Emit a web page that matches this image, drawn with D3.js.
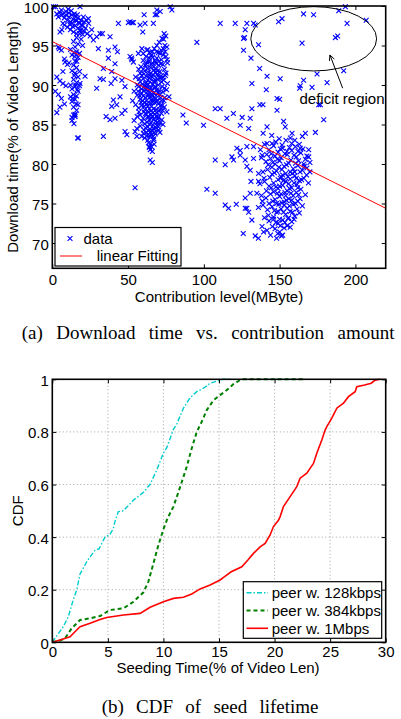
<!DOCTYPE html>
<html><head><meta charset="utf-8">
<script src="https://cdn.jsdelivr.net/npm/d3@7"></script>
<style>
body{margin:0;background:#fff;}
svg text{font-family:"Liberation Sans",Arial,sans-serif;}
.cap{font-family:"Liberation Serif","Times New Roman",serif;}
</style></head><body>
<svg id="fig" width="401" height="719"></svg>
<script>
// ---------- DATA: chart (a) ----------
const topXTicks = [0, 50, 100, 150, 200];
const topYTicks = [70, 75, 80, 85, 90, 95, 100];
// [contribution (MByte), download time (% of video length)]
const clusterLowContrib = [
[0.8,99.9],[2,99.9],[18.3,99.9],[5,99.2],[6,98.8],[7,99.0],[8,98.5],[9,98.9],[10,98.2],[11,98.6],[12,98.0],[13,97.8],[14,98.3],[15,97.5],[16,98.1],[17,97.2],[18,97.8],[19,97.0],[20,97.5],[21,96.8],[8,97.6],[10,97.3],[12,97.0],[14,96.7],[16,96.5],[18,96.9],[20,96.4],[22,97.2],[24,97.8],[26,97.0],[6,99.5],[9,99.3],[11,99.1],[13,98.9],[15,98.7],[17,98.5],[19,98.2],[21,98.0],[4,98.6],[3,99.0],[7,97.8],[23,96.5],[25,96.2],[5.1,96.7],[6.3,97.0],[12.5,99.4],[14.5,99.0],[16.5,98.9],[10.5,99.6],[20.5,98.6],[22.5,98.2],[19.5,97.6],[17.5,97.9],[15.5,98.2],[13.5,97.4],[11.5,97.7],
[14,95.5],[15,94.8],[16,94.2],[13,93.8],[17,93.5],[15,93.0],[14,92.5],[16,92.2],[13,91.8],[15,91.5],[17,91.0],[14,90.7],[16,90.3],[12,90.0],[15,89.8],[13,89.5],[17,89.2],[14,88.8],[16,88.6],[15,88.2],[13,87.9],[17,87.5],[14,87.2],[16,86.8],[15,86.3],[13,85.9],[17,95.2],[18,94.0],[12,94.5],[16,96.0],[11,92.8],[18,91.7],[12,88.5],[18,89.9],[15,86.0],[13,85.5],[14,86.2],[18,96.5],[19,95.8],[20,95.0],[16.7,83.3],[15,86.2],[14.3,85.1],[17.2,83.3],[14.5,91.2],[15.5,90.0],[16.5,89.4],[13.5,88.3],[15.8,87.6],[14.8,93.6],[16.2,93.0],[14.2,94.1],
[4,94.8],[6,94.4],[3,91.0],[5,90.5],[7,90.2],[9,89.9],[2,89.2],[4,88.8],[6,88.3],[8,87.6],[5,87.2],[3,86.5],[10,92.6],[8,93.3],[7,91.7],[4.6,94.6],[8.4,92.9],[18.3,90.2],[21.6,91.1]
];
const clusterMidSparse = [
[23.8,98.4],[27.1,95.7],[29.3,96.1],[31.5,96.5],[33,96.5],[38.1,96.1],[43.6,97.8],[50.2,97.9],[52.6,97.9],[60.6,98.9],[30.4,94.6],[37,94.4],[41.4,94.8],[43,94.2],[51.3,93.6],[52.3,93.4],[37,93.4],[41.4,92.7],[33.7,92.1],[39.2,91.7],[31.5,90.8],[33.7,90.7],[29.3,89.6],[38.8,90.2],[41.4,90.8],[45.9,90.6],[48,89.8],[40.3,88.1],[42.5,87.5],[44.7,88.5],[39.2,87.3],[35.5,86],[41.4,85.8],[38.1,85.6],[33.7,83.5],[48,84.1],[49.2,83.7],[45.9,86.4],[48,86.8],[54.6,77]
];
const clusterMidDense = [
[52.5,93.2],[53.5,92.9],[56.8,94],[62.4,94.4],[65.7,93.8],[69,93.4],[71.2,94],[73.3,94.6],[74.5,94.2],[75.6,94.8],[73.8,96.5],[74.9,96.2],[69,98.9],[69,99.5],[71.2,99.3],[77.8,99.9],[78.9,99.5],[66.7,97.8],[67.9,98.9],[57.9,97.6],[61.2,97.8],[59.7,96.7],[59.1,94.6],[51.3,98],[53.5,97.9],[73.5,95.8],[60.1,83.9],[64.6,83.5],[64.1,82.2],[66.7,83],[54.6,84.1],[55.8,83.5],[55.8,84.5],[66.7,84.5],[70,84.7],[69,86],[72.3,85.6],[75.6,86.6],[86.2,86.2],[88.4,85.2],[95.4,95.4],[64.6,81.8],[64.6,80.5],[66,80.2],
[60,93.1],[62,92.6],[64,93.4],[66,92.8],[68,93.0],[70,92.5],[72,93.2],[74,92.0],[61,91.8],[63,92.1],[65,91.5],[67,91.9],[69,91.3],[71,91.7],[73,91.0],[59,91.2],[58,90.4],[60,90.8],[62,90.3],[64,90.9],[66,90.1],[68,90.6],[70,90.0],[72,90.4],[74,89.6],[57,89.8],[59,89.5],[61,89.9],[63,89.2],[65,89.7],[67,89.0],[69,89.4],[71,88.8],[73,89.1],[56,88.7],[58,88.2],[60,88.6],[62,88.0],[64,88.4],[66,87.8],[68,88.3],[70,87.6],[72,88.0],[55,87.5],[57,87.1],[59,87.4],[61,86.9],[63,87.3],[65,86.7],[67,87.0],[69,86.5],[71,86.9],[58,86.2],[60,85.8],[62,86.3],[64,85.6],[66,86.0],[68,85.4],[70,85.9],[61,85.1],[63,84.7],[65,85.2],[67,84.5],[69,84.9],[62,84.0],[64,83.6],[66,84.2],[68,83.8],[63,83.0],[65,82.6],[67,83.2],[64,82.1],[66,81.6],[60,94.0],[63,94.5],[66,94.2],[69,95.0],[72,94.4],[75,93.6],[76,92.8],[75,91.5],[76,90.2],[57,92.0],[55,91.0],[54,89.2],[53,88.0],[56,86.0],[54,85.5],[58,84.8],[59,83.5],[71,84.0],[73,85.0],[74,87.2],[77,88.5],[61,87.8],[63,90.6],[65,88.1],[67,92.3],[69,87.9],[71,90.9],[62,89.4],[64,91.2],[66,89.3],[68,91.6],[70,89.0],[60,92.0],[65,93.7],[70,94.1],[73,92.6],[66,88.6],[63,86.0],[67,85.7],[61,83.3],[65,84.1],[69,86.1],[72,86.4],[64,87.0],[68,89.8],[62,91.1],[66,91.0],[70,91.2],[58,91.5],[56,90.0],
[58.5,92.3],[60.5,91.4],[61.5,90.2],[62.5,92.9],[63.5,91.6],[64.5,90.4],[65.5,92.6],[66.5,91.3],[67.5,90.3],[68.5,92.0],[69.5,90.7],[70.5,93.0],[71.5,91.1],[72.5,89.8],[73.5,90.6],[59.5,90.1],[60.5,89.2],[61.5,88.4],[62.5,89.7],[63.5,88.7],[64.5,89.5],[65.5,88.9],[66.5,88.2],[67.5,89.6],[68.5,88.7],[69.5,88.1],[70.5,89.3],[71.5,88.4],[72.5,87.4],[59.5,88.0],[60.5,87.3],[61.5,86.4],[62.5,87.6],[63.5,86.6],[64.5,87.7],[65.5,87.3],[66.5,86.5],[67.5,87.8],[68.5,86.9],[69.5,85.7],[70.5,86.7],[71.5,87.4],[60.5,86.6],[61.5,84.6],[62.5,85.3],[63.5,85.9],[64.5,85.0],[65.5,85.8],[66.5,84.9],[67.5,86.3],[68.5,84.6],[69.5,85.3],[62.5,83.6],[63.5,84.2],[64.5,84.4],[65.5,83.7],[66.5,83.5],[67.5,84.0],[63.5,82.7],[65.5,82.2],[67.2,82.5],[61.2,92.5],[63.8,93.0],[66.2,93.5],[68.8,94.2],[71.8,92.7],[73.2,93.8],[74.6,91.2],[75.4,89.4],[74.2,88.4],[72.8,86.8],[57.4,90.8],[56.6,89.2],[57.8,88.6],[58.6,87.8],[57.2,86.6],[59.2,85.4],[60.4,84.3],[58.8,89.0],[70.2,84.3],[71.3,85.2],[73.6,88.0],[61.8,93.6],[64.2,94.1],[67.3,94.6],[70.6,95.4],[72.4,95.9],[74.3,95.0],[75.8,93.2],[64.9,92.2],[68.2,92.8],[62.9,90.0],[66.9,90.5],[60.9,89.6],[69.7,91.8],[65.2,86.3],[63.1,88.9]
];
const clusterHighSparse = [
[110.8,97.8],[120.7,97.8],[128.4,97.8],[132.8,97.8],[133.9,97.6],[127.3,97],[126.2,95.9],[126.8,96],[126.2,94.4],[131.1,93.4],[136.1,95.1],[136.8,92.1],[141.7,91.1],[131.7,90.2],[141.2,89.4],[150.4,90.8],[150,88.2],[163.6,89.9],[163.2,89.6],[165.8,90.6],[171.4,89.7],[174.7,91.4],[181.3,90.3],[192.3,91.8],[176.9,87.5],[149.3,98],[151.6,98.4],[165.8,99],[172.4,98.9],[164.8,95.3],[186.8,96],[188.3,96.2],[194.5,97.8],[189,99.4],[193.4,99.9],[207.1,98.2],
[107.5,87],[110.8,87],[115.2,85.8],[119.5,86.4],[125.3,85.9],[130.6,85.8],[131.7,87],[137,87.5],[139,87.5],[148.3,86.8],[99.8,84.9],[124,84.9],[129.6,84.5],[141.7,84.7],[152.6,85.4],[153.7,84.7],[158.2,83.9],[167,83.9],[173.6,84],[179.1,85.6],[175.8,87.5],[148.3,88.3],
[121.8,82],[124,81.7],[128.4,82.2],[132.8,82.2],[137.3,81.8],[141.7,82.6],[145,82.6],[151.6,82.4],[154.9,81.6],[160.4,82.2],[163.6,82],[169.2,81.8]
];
const clusterHighDense = [
[140,82.5],[143,81.8],[146,82.3],[149,81.5],[152,82.0],[155,81.2],[158,81.7],[161,80.9],[164,81.4],[167,80.6],[170,80.2],[138,80.8],[141,80.3],[144,80.7],[147,80.0],[150,80.4],[153,79.7],[156,80.1],[159,79.4],[162,79.8],[165,79.2],[168,79.5],[139,79.0],[142,79.3],[145,78.7],[148,79.1],[151,78.4],[154,78.8],[157,78.1],[160,78.5],[163,77.9],[166,78.2],[169,77.6],[137,77.5],[140,77.8],[143,77.2],[146,77.6],[149,76.9],[152,77.3],[155,76.6],[158,77.0],[161,76.4],[164,76.8],[167,76.1],[135,76.3],[138,76.0],[141,75.7],[144,76.2],[147,75.5],[150,75.9],[153,75.2],[156,75.6],[159,74.9],[162,75.3],[165,74.7],[136,74.5],[139,74.8],[142,74.2],[145,74.6],[148,73.9],[151,74.3],[154,73.6],[157,74.0],[160,73.4],[163,73.8],[140,73.2],[143,72.8],[146,73.3],[149,72.5],[152,72.9],[155,72.2],[158,72.7],[147,71.8],[150,71.4],[153,71.9],[144,71.0],[148,70.6],[146,73.0],[151,76.2],[154,77.8],[157,79.0],[149,78.0],[153,74.8],[156,73.2],[159,76.0],[161,78.2],[148,75.0],[150,77.2],[152,78.6],[155,74.4],[158,75.4],[160,79.0],[162,77.0],[145,79.6],[147,81.0],[151,80.8],[154,76.0],[156,77.5],[149,74.0],[146,76.5],[157,72.0],[152,71.0],[150,73.0],[143,75.0],[166,80.0],[168,81.0],[170,79.0],[163,82.5],[160,83.0],[165,83.5],[158,82.6],
[126,71.2],[133.9,70.9],[136,70.6],[138.4,72.1],[139.4,71.4],[141.7,71.6],[131.7,72.9],[129.6,73.9],[128.4,74.4],[127.3,75.7],[130.6,76.3],[131.1,77.8],[136.1,77.8],[130.6,79.2],[136.1,78.8],[118.5,80.9],[124,81.1],[119.6,80.5],[127.3,80.5],[128.4,79.7],[132.8,80.7],[138.4,81.1],[107.5,80.5],[114.1,79.9],[102,76.8],[107.5,76.3],[114.1,74.8],[116.3,74.4],[121.4,74.9],[127.3,74.4],
[141.5,81.2],[144.5,81.3],[147.5,82.8],[150.5,81.9],[153.5,81.3],[156.5,82.1],[159.5,81.1],[162.5,80.4],[142.5,79.9],[145.5,80.2],[148.5,80.6],[151.5,79.3],[154.5,79.9],[157.5,80.5],[160.5,80.1],[163.5,79.0],[143.5,78.3],[146.5,78.9],[149.5,79.6],[152.5,77.9],[155.5,78.4],[158.5,78.8],[161.5,77.4],[164.5,78.0],[144.5,77.0],[147.5,77.1],[150.5,78.2],[153.5,76.4],[156.5,76.9],[159.5,77.6],[162.5,76.1],[145.5,75.3],[148.5,76.3],[151.5,75.1],[154.5,75.4],[157.5,76.3],[160.5,75.0],[163.5,75.6],[146.5,74.1],[149.5,74.9],[152.5,73.9],[155.5,73.1],[158.5,73.9],[161.5,74.3],[147.5,72.6],[150.5,72.2],[153.5,72.6],[156.5,74.7],[159.5,73.0],[145.2,72.1],[148.8,71.2],[151.2,70.9],[142.6,73.5],[141.3,76.6],[139.7,78.2],[138.6,75.3],[166.3,79.7],[167.8,78.6],[169.2,80.9],[165.4,81.9],[162.1,81.6],[157.1,83.3],[154.2,83.0],[149.7,83.2],[144.8,83.6],[139.1,83.9]
];
const fitLine = [[0, 95.5], [220, 74.4]];
const deficitEllipse = {cx: 172.5, cy: 95.85, rx: 41.5, ry: 4.07};
const deficitArrow = [[191.6, 89.6], [183.2, 93.8]];

// ---------- DATA: chart (b) ----------
const botXTicks = [0, 5, 10, 15, 20, 25, 30];
const botYTicks = [0, 0.2, 0.4, 0.6, 0.8, 1];
const botYLabels = ["0", "0.2", "0.4", "0.6", "0.8", "1"];
const cdf128 = [[0,0],[0.5,0.03],[1,0.06],[1.44,0.097],[1.8,0.15],[2.2,0.2],[2.5,0.26],[3.15,0.31],[3.84,0.35],[4.2,0.355],[4.74,0.40],[5.19,0.41],[5.49,0.433],[5.64,0.46],[5.94,0.497],[6.4,0.50],[7.29,0.54],[8.19,0.57],[8.79,0.60],[9.4,0.655],[10,0.72],[10.3,0.74],[10.9,0.81],[11.2,0.83],[11.8,0.89],[12.4,0.93],[13,0.953],[13.6,0.966],[14.2,0.985],[14.9,0.994],[15.4,1],[16,1]];
const cdf384 = [[0,0],[0.6,0.005],[1.14,0.015],[1.74,0.053],[2.5,0.085],[3.4,0.091],[4.3,0.10],[5.2,0.123],[6.4,0.129],[7.3,0.154],[8.2,0.19],[8.64,0.23],[9.1,0.30],[9.55,0.37],[10,0.43],[10.35,0.47],[10.9,0.516],[11.5,0.59],[12.1,0.668],[12.55,0.738],[13,0.80],[13.45,0.839],[13.9,0.883],[14.5,0.92],[15.1,0.94],[15.7,0.959],[16.3,0.982],[16.9,0.997],[17.2,1],[22.6,1]];
const cdf1M = [[0,0],[0.69,0.009],[1.6,0.021],[2.04,0.04],[2.5,0.059],[3.4,0.072],[4.3,0.087],[4.9,0.094],[6.4,0.104],[7.9,0.11],[8.8,0.133],[10,0.154],[10.9,0.167],[11.8,0.171],[12.55,0.184],[13.3,0.203],[14.2,0.218],[15.1,0.237],[15.5,0.25],[16.1,0.268],[17.05,0.287],[17.6,0.313],[18.1,0.338],[18.7,0.363],[19.15,0.376],[19.6,0.408],[19.9,0.44],[20.35,0.464],[20.5,0.478],[20.8,0.516],[21.4,0.554],[22,0.592],[22.3,0.624],[22.9,0.643],[23.5,0.68],[23.8,0.719],[24.25,0.769],[24.55,0.807],[24.7,0.82],[25.15,0.852],[25.6,0.89],[26.2,0.909],[26.65,0.934],[27.25,0.953],[27.4,0.972],[28.1,0.978],[28.7,0.985],[29.05,0.997],[29.5,1]];
const cdfSeries = [
  {name: "peer w. 128kbps", values: cdf128, color: "#00cccc", dash: "5,2,1.5,2", width: 1.4},
  {name: "peer w. 384kbps", values: cdf384, color: "#008000", dash: "4,3", width: 2},
  {name: "peer w. 1Mbps", values: cdf1M, color: "#ff0000", dash: null, width: 1.6}
];

// ---------- DRAW ----------
const svg = d3.select("#fig");
svg.append("rect").attr("width", 401).attr("height", 719).attr("fill", "#fff");
const FS = 15;

function frameAxes(g, x, y, xt, yt, xfmt, yfmt, xpad) {
  const w = x.range()[1] - x.range()[0];
  const h = y.range()[0] - y.range()[1];
  const styleAx = s => { s.selectAll(".domain").remove();
    s.selectAll(".tick line").attr("stroke", "#000").attr("stroke-width", 1);
    s.selectAll("text").attr("font-size", FS).attr("fill", "#000").attr("font-family", "Liberation Sans, Arial, sans-serif"); };
  g.append("g").attr("transform", `translate(0,${y.range()[0]})`)
    .call(d3.axisBottom(x).tickValues(xt).tickFormat(xfmt).tickSizeInner(-4).tickSizeOuter(0).tickPadding(xpad)).call(styleAx);
  g.append("g").attr("transform", `translate(0,${y.range()[1]})`)
    .call(d3.axisTop(x).tickValues(xt).tickFormat("").tickSizeInner(-4).tickSizeOuter(0)).call(styleAx);
  g.append("g").attr("transform", `translate(${x.range()[0]},0)`)
    .call(d3.axisLeft(y).tickValues(yt).tickFormat(yfmt).tickSizeInner(-4).tickSizeOuter(0).tickPadding(3.5)).call(styleAx)
    .selectAll("text").attr("dy", "0.4em");
  g.append("g").attr("transform", `translate(${x.range()[1]},0)`)
    .call(d3.axisRight(y).tickValues(yt).tickFormat("").tickSizeInner(-4).tickSizeOuter(0)).call(styleAx);
  g.append("rect").attr("x", x.range()[0]).attr("y", y.range()[1]).attr("width", w).attr("height", h)
    .attr("fill", "none").attr("stroke", "#000").attr("stroke-width", 1.6);
}

// ===== Chart (a) =====
const xA = d3.scaleLinear().domain([0, 220]).range([52.3, 385.7]);
const yA = d3.scaleLinear().domain([66.8, 100]).range([268.3, 6]);
const gA = svg.append("g");
const allPts = [].concat(clusterLowContrib, clusterMidSparse, clusterMidDense, clusterHighSparse, clusterHighDense);
const mark = "M-2.4,-2.4L2.4,2.4M-2.4,2.4L2.4,-2.4";
gA.append("g").selectAll("path").data(allPts).join("path")
  .attr("d", mark).attr("transform", d => `translate(${xA(d[0])},${yA(d[1])})`)
  .attr("stroke", "#0000ff").attr("stroke-width", 1.1).attr("fill", "none");
gA.append("path").datum(fitLine).attr("d", d3.line().x(d => xA(d[0])).y(d => yA(d[1])))
  .attr("stroke", "#ff0000").attr("stroke-width", 1).attr("fill", "none");
// annotation
gA.append("ellipse").attr("cx", xA(deficitEllipse.cx)).attr("cy", yA(deficitEllipse.cy))
  .attr("rx", xA(deficitEllipse.rx) - xA(0)).attr("ry", yA(0) - yA(deficitEllipse.ry))
  .attr("fill", "none").attr("stroke", "#000").attr("stroke-width", 1);
const a0 = deficitArrow[0], a1 = deficitArrow[1];
const ax0 = xA(a0[0]), ay0 = yA(a0[1]), ax1 = xA(a1[0]), ay1 = yA(a1[1]);
gA.append("line").attr("x1", ax0).attr("y1", ay0).attr("x2", ax1).attr("y2", ay1).attr("stroke", "#000").attr("stroke-width", 1);
const ang = Math.atan2(ay1 - ay0, ax1 - ax0);
const hl = 6, hw = 0.45;
gA.append("path").attr("d", `M${ax1},${ay1}L${ax1 - hl*Math.cos(ang - hw)},${ay1 - hl*Math.sin(ang - hw)}M${ax1},${ay1}L${ax1 - hl*Math.cos(ang + hw)},${ay1 - hl*Math.sin(ang + hw)}`)
  .attr("stroke", "#000").attr("stroke-width", 1).attr("fill", "none");
gA.append("text").attr("x", 342).attr("y", 103.5).attr("text-anchor", "middle").attr("font-size", FS).text("deficit region");
frameAxes(gA, xA, yA, topXTicks, topYTicks, d3.format("d"), d3.format("d"), 5.8);
// legend a
const lgA = gA.append("g");
lgA.append("rect").attr("x", 55).attr("y", 227.5).attr("width", 126).attr("height", 38.5).attr("fill", "#fff").attr("stroke", "#000").attr("stroke-width", 1.2);
lgA.append("path").attr("d", mark).attr("transform", "translate(70,238.5)").attr("stroke", "#0000ff").attr("stroke-width", 1.1).attr("fill", "none");
lgA.append("text").attr("x", 83.5).attr("y", 243.8).attr("font-size", FS).text("data");
lgA.append("line").attr("x1", 60).attr("x2", 82).attr("y1", 256).attr("y2", 256).attr("stroke", "#ff0000").attr("stroke-width", 1);
lgA.append("text").attr("x", 96.7).attr("y", 261.3).attr("font-size", FS).text("linear Fitting");
gA.append("text").attr("x", 219).attr("y", 301.8).attr("text-anchor", "middle").attr("font-size", FS).text("Contribution level(MByte)");
gA.append("text").attr("transform", "translate(17.5,137) rotate(-90)").attr("text-anchor", "middle").attr("font-size", FS).text("Download time(% of Video Length)");
svg.append("text").attr("class", "cap").attr("x", 21.7).attr("y", 338.5).attr("font-size", 19).attr("word-spacing", 8.7).text("(a) Download time vs. contribution amount");

// ===== Chart (b) =====
const xB = d3.scaleLinear().domain([0, 30]).range([52.3, 385.7]);
const yB = d3.scaleLinear().domain([0, 1]).range([642.3, 379.3]);
const gB = svg.append("g");
gB.append("g").selectAll("line").data(botXTicks.slice(1, -1)).join("line")
  .attr("x1", d => xB(d)).attr("x2", d => xB(d)).attr("y1", yB(0)).attr("y2", yB(1))
  .attr("stroke", "#999").attr("stroke-width", 0.9).attr("stroke-dasharray", "1,2.5");
gB.append("g").selectAll("line").data(botYTicks.slice(1, -1)).join("line")
  .attr("x1", xB(0)).attr("x2", xB(30)).attr("y1", d => yB(d)).attr("y2", d => yB(d))
  .attr("stroke", "#999").attr("stroke-width", 0.9).attr("stroke-dasharray", "1,2.5");
const lineB = d3.line().x(d => xB(d[0])).y(d => yB(d[1]));
cdfSeries.forEach(s => {
  gB.append("path").datum(s.values).attr("d", lineB).attr("fill", "none")
    .attr("stroke", s.color).attr("stroke-width", s.width).attr("stroke-dasharray", s.dash);
});
frameAxes(gB, xB, yB, botXTicks, botYTicks, d3.format("d"), (d, i) => botYLabels[i], 4.5);
const lgB = gB.append("g");
lgB.append("rect").attr("x", 243.3).attr("y", 581.7).attr("width", 138.4).attr("height", 56.6).attr("fill", "#fff").attr("stroke", "#000").attr("stroke-width", 1.2);
cdfSeries.forEach((s, i) => {
  const yy = 592.7 + i * 17.8;
  lgB.append("line").attr("x1", 246.5).attr("x2", 268).attr("y1", yy).attr("y2", yy)
    .attr("stroke", s.color).attr("stroke-width", s.width).attr("stroke-dasharray", s.dash);
  lgB.append("text").attr("x", 271.7).attr("y", yy + 5.3).attr("font-size", FS).text(s.name);
});
gB.append("text").attr("x", 218).attr("y", 673).attr("text-anchor", "middle").attr("font-size", FS).text("Seeding Time(% of Video Len)");
gB.append("text").attr("transform", "translate(23,510.8) rotate(-90)").attr("text-anchor", "middle").attr("font-size", FS).text("CDF");
svg.append("text").attr("class", "cap").attr("x", 101.7).attr("y", 713.3).attr("font-size", 19).attr("word-spacing", 7.5).text("(b) CDF of seed lifetime");
</script>
</body></html>
